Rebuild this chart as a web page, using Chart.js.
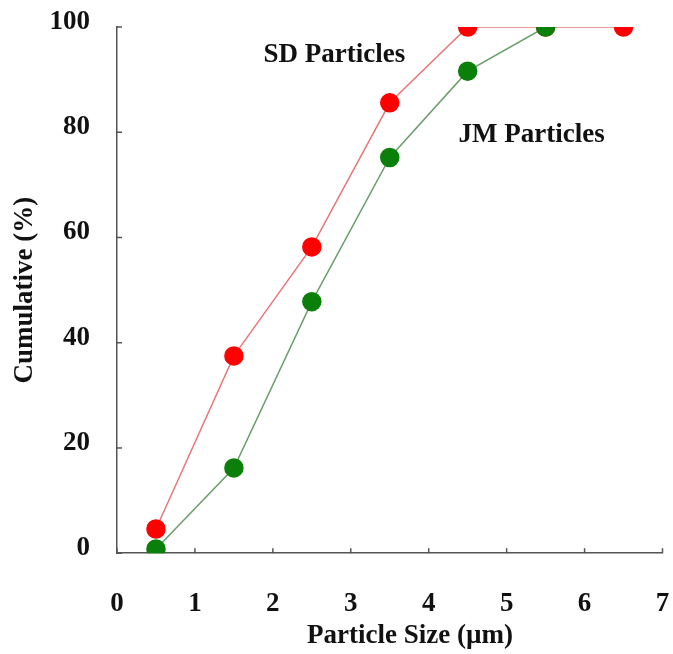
<!DOCTYPE html>
<html>
<head>
<meta charset="utf-8">
<script src="https://cdn.jsdelivr.net/npm/chart.js@4"></script>
<style>
  html, body { margin: 0; padding: 0; background: #fff; }
  #wrap { width: 673px; height: 654px; }
</style>
</head>
<body>
<div id="wrap"><canvas id="chart" width="673" height="654"></canvas></div>
<script>
  const sizes   = [0.5, 1.5, 2.5, 3.5, 4.5, 5.5, 6.5];
  const sdCum   = [4.6, 37.5, 58.2, 85.6, 100, 100, 100];
  const jmSizes = [0.5, 1.5, 2.5, 3.5, 4.5, 5.5];
  const jmCum   = [0.8, 16.2, 47.8, 75.2, 91.6, 100];
  const xTicks  = [0, 1, 2, 3, 4, 5, 6, 7];
  const yTicks  = [0, 20, 40, 60, 80, 100];
  const xTitle  = 'Particle Size (\u00b5m)';

  const serif = '"Liberation Serif", "Times New Roman", serif';
  const fsize = 27;

  // labels placed in data coordinates
  const notes = [
    { text: 'SD Particles', x: 2.79, y: 94.7 },
    { text: 'JM Particles', x: 5.32, y: 79.4 }
  ];

  const annotate = {
    id: 'annotate',
    afterDraw(chart) {
      const ctx = chart.ctx, xs = chart.scales.x, ys = chart.scales.y;
      ctx.save();
      // inward ticks
      ctx.strokeStyle = '#555';
      ctx.lineWidth = 1.5;
      xTicks.forEach(v => {
        const px = xs.getPixelForValue(v);
        ctx.beginPath(); ctx.moveTo(px, ys.bottom); ctx.lineTo(px, ys.bottom - 5); ctx.stroke();
      });
      yTicks.forEach(v => {
        const py = ys.getPixelForValue(v);
        ctx.beginPath(); ctx.moveTo(xs.left, py); ctx.lineTo(xs.left + 5, py); ctx.stroke();
      });
      ctx.fillStyle = '#111';
      ctx.font = 'bold ' + fsize + 'px ' + serif;
      ctx.textAlign = 'center';
      ctx.textBaseline = 'middle';
      notes.forEach(n => ctx.fillText(n.text, xs.getPixelForValue(n.x), ys.getPixelForValue(n.y)));
      // x title sits a bit right of the plot centre in the original
      ctx.fillText(xTitle, 410, xs.bottom - 17);
      ctx.restore();
    }
  };

  new Chart(document.getElementById('chart'), {
    type: 'scatter',
    data: {
      datasets: [
        {
          label: 'SD Particles',
          data: sizes.map((s, i) => ({ x: s, y: sdCum[i] })),
          showLine: true,
          borderColor: '#e87878',
          borderWidth: 1.5,
          pointBackgroundColor: '#ff0000',
          pointBorderColor: '#ff0000',
          pointRadius: 9,
          order: 2
        },
        {
          label: 'JM Particles',
          data: jmSizes.map((s, i) => ({ x: s, y: jmCum[i] })),
          showLine: true,
          borderColor: '#6a9e6a',
          borderWidth: 1.5,
          pointBackgroundColor: '#0a800a',
          pointBorderColor: '#0a800a',
          pointRadius: 9,
          order: 1
        }
      ]
    },
    options: {
      responsive: false,
      animation: false,
      layout: { padding: { left: 9, right: 6, top: 27, bottom: 1 } },
      plugins: { legend: { display: false }, tooltip: { enabled: false } },
      scales: {
        x: {
          type: 'linear', min: 0, max: 7,
          afterBuildTicks: s => { s.ticks = xTicks.map(v => ({ value: v })); },
          afterFit: s => { s.paddingLeft = 0; s.paddingRight = -5; },
          grid: { display: false, drawTicks: true, tickLength: 35, tickColor: 'rgba(0,0,0,0)' },
          border: { color: '#555', width: 1.5 },
          ticks: { color: '#111', padding: 0, font: { family: serif, size: fsize, weight: 'bold' } },
          // space is kept here, the text itself is drawn by the plugin
          title: { display: true, text: xTitle, color: 'rgba(0,0,0,0)', padding: { top: 0, bottom: 0 },
                   font: { family: serif, size: fsize, weight: 'bold' } }
        },
        y: {
          type: 'linear', min: 0, max: 100,
          afterBuildTicks: s => { s.ticks = yTicks.map(v => ({ value: v })); },
          afterFit: s => { s.width = 108; s.paddingTop = 0; s.paddingBottom = 0; },
          grid: { display: false, drawTicks: true, tickLength: 25, tickColor: 'rgba(0,0,0,0)' },
          border: { color: '#555', width: 1.5 },
          ticks: { color: '#111', padding: 2, labelOffset: -5, font: { family: serif, size: fsize, weight: 'bold' } },
          title: { display: true, text: 'Cumulative (%)', color: '#111', padding: { top: 0, bottom: 0 },
                   font: { family: serif, size: fsize, weight: 'bold' } }
        }
      }
    },
    plugins: [annotate]
  });
</script>
</body>
</html>
